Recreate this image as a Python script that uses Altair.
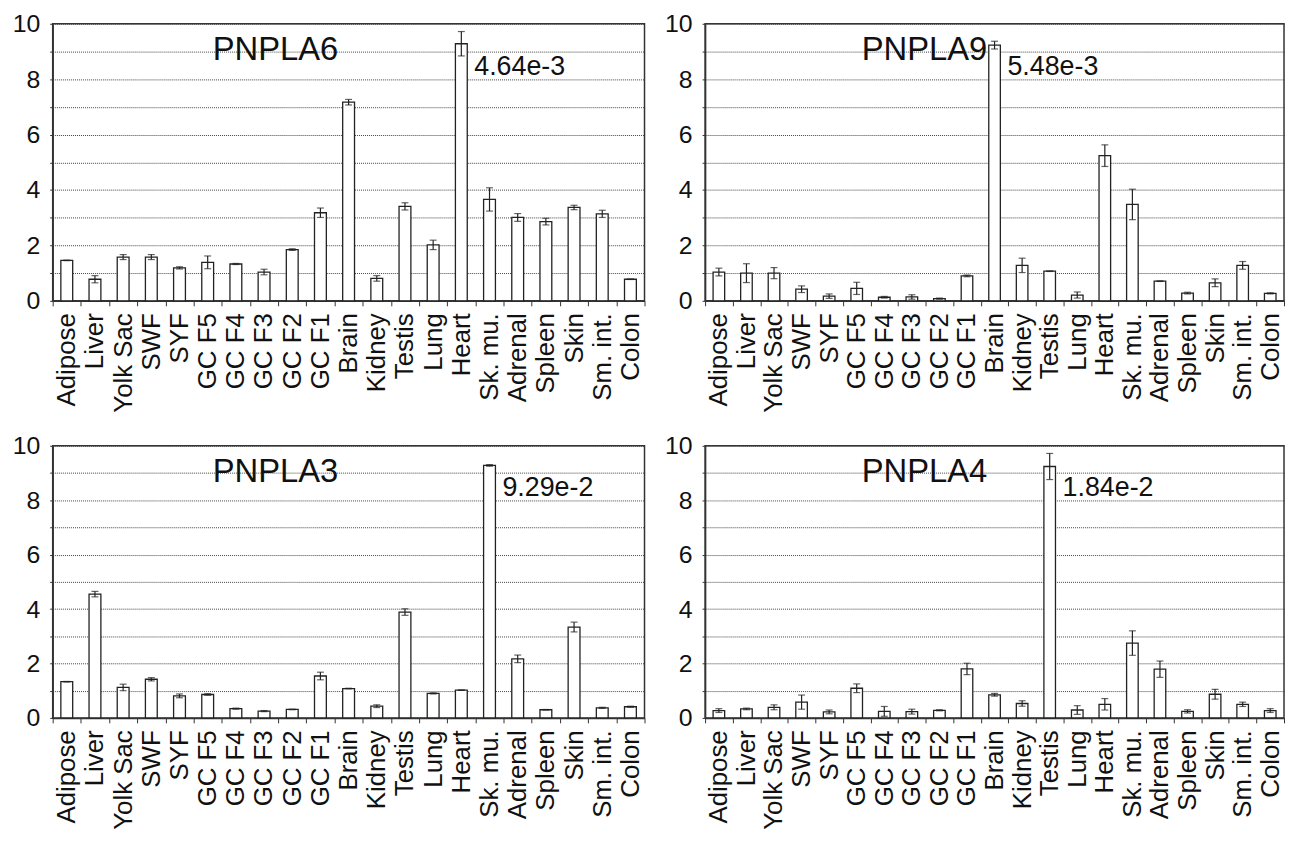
import altair as alt
import pandas as pd

tissues = ["Adipose", "Liver", "Yolk Sac", "SWF", "SYF", "GC F5", "GC F4", "GC F3",
           "GC F2", "GC F1", "Brain", "Kidney", "Testis", "Lung", "Heart", "Sk. mu.",
           "Adrenal", "Spleen", "Skin", "Sm. int.", "Colon"]

genes = ["PNPLA6", "PNPLA9", "PNPLA3", "PNPLA4"]

pnpla6_mean = [1.46, 0.78, 1.58, 1.58, 1.19, 1.39, 1.33, 1.04, 1.85, 3.18, 7.17,
               0.81, 3.41, 2.02, 9.28, 3.66, 3.01, 2.86, 3.37, 3.14, 0.78]
pnpla6_err = [0.01, 0.13, 0.09, 0.09, 0.04, 0.23, 0.02, 0.10, 0.03, 0.17, 0.10,
              0.10, 0.13, 0.17, 0.44, 0.42, 0.14, 0.12, 0.08, 0.13, 0.01]

pnpla9_mean = [1.04, 1.00, 1.00, 0.42, 0.17, 0.45, 0.13, 0.14, 0.08, 0.90, 9.23,
               1.28, 1.07, 0.21, 5.24, 3.48, 0.71, 0.28, 0.65, 1.28, 0.27]
pnpla9_err = [0.14, 0.34, 0.20, 0.12, 0.08, 0.22, 0.03, 0.08, 0.02, 0.03, 0.14,
              0.26, 0.01, 0.11, 0.39, 0.55, 0.01, 0.03, 0.14, 0.14, 0.02]

pnpla3_mean = [1.33, 4.55, 1.12, 1.42, 0.81, 0.86, 0.34, 0.25, 0.31, 1.54, 1.08,
               0.43, 3.89, 0.90, 1.02, 9.28, 2.17, 0.30, 3.34, 0.37, 0.41]
pnpla3_err = [0.01, 0.10, 0.12, 0.06, 0.07, 0.03, 0.02, 0.02, 0.01, 0.14, 0.01,
              0.05, 0.12, 0.02, 0.01, 0.03, 0.14, 0.01, 0.18, 0.02, 0.02]

pnpla4_mean = [0.27, 0.33, 0.39, 0.58, 0.22, 1.09, 0.24, 0.23, 0.28, 1.80, 0.85,
               0.53, 9.24, 0.29, 0.50, 2.75, 1.79, 0.24, 0.87, 0.50, 0.27]
pnpla4_err = [0.07, 0.03, 0.09, 0.26, 0.07, 0.16, 0.18, 0.09, 0.02, 0.21, 0.05,
              0.10, 0.48, 0.16, 0.21, 0.45, 0.30, 0.06, 0.18, 0.08, 0.07]

notes = ["4.64e-3", "5.48e-3", "9.29e-2", "1.84e-2"]
note_tissues = ["Heart", "Brain", "Sk. mu.", "Testis"]

FONT = "Liberation Sans"
INK = "#222222"

YAXIS = alt.Axis(title=None, values=list(range(11)),
                 labelExpr="datum.value % 2 === 0 ? datum.label : ''",
                 labelFont=FONT, labelFontSize=25, labelColor="#111",
                 labelPadding=10, tickSize=3, tickColor="#333",
                 domainColor="#333", domainWidth=1.5, labelOverlap=False,
                 grid=True, gridColor="#444", gridDash=[1, 1], gridWidth=1)
XAXIS = alt.Axis(title=None, labelAngle=-90, labelFont=FONT, labelFontSize=26,
                 labelColor="#111", labelPadding=7, tickBand="extent", tickSize=5,
                 tickColor="#333", domainColor="#333", domainWidth=1.5,
                 labelAlign="right", labelBaseline="middle", grid=False,
                 labelOverlap=False)
YSCALE = alt.Scale(domain=[0, 10], nice=False)
XSCALE = alt.Scale(domain=tissues, paddingInner=0, paddingOuter=0)


def X():
    return alt.X("tissue:N", sort=tissues, scale=XSCALE, axis=XAXIS)


def Y(field):
    return alt.Y(field, scale=YSCALE, axis=YAXIS)


def panel(gene, mean, err, note, note_tissue, w, h):
    df = pd.DataFrame({
        "tissue": tissues,
        "value": mean,
        "lo": [m - e for m, e in zip(mean, err)],
        "hi": [m + e for m, e in zip(mean, err)],
    })
    base = alt.Chart(df)
    bars = base.mark_bar(width={"band": 0.42}, fill="white", stroke=INK,
                         strokeWidth=1.3).encode(x=X(), y=Y("value:Q"))
    rules = base.mark_rule(color=INK, strokeWidth=1.2).encode(
        x=X(), y=Y("lo:Q"), y2="hi:Q")
    cap_hi = base.mark_tick(color=INK, size=7, thickness=1.2).encode(
        x=X(), y=Y("hi:Q"))
    cap_lo = base.mark_tick(color=INK, size=7, thickness=1.2).encode(
        x=X(), y=Y("lo:Q"))

    title_df = pd.DataFrame({"tissue": ["GC F5"], "y": [8.68], "label": [gene]})
    title = alt.Chart(title_df).mark_text(
        font=FONT, fontSize=33, align="left", baseline="alphabetic", dx=5,
        color="#111").encode(x=X(), y=Y("y:Q"), text="label:N")

    note_df = pd.DataFrame({"tissue": [note_tissue], "y": [8.15], "label": [note]})
    note_t = alt.Chart(note_df).mark_text(
        font=FONT, fontSize=27, align="left", baseline="alphabetic", dx=13,
        color="#111").encode(x=X(), y=Y("y:Q"), text="label:N")

    return alt.layer(bars, rules, cap_hi, cap_lo, title, note_t).properties(
        width=w, height=h)


p6 = panel(genes[0], pnpla6_mean, pnpla6_err, notes[0], note_tissues[0], 596, 279)
p9 = panel(genes[1], pnpla9_mean, pnpla9_err, notes[1], note_tissues[1], 583, 279)
p3 = panel(genes[2], pnpla3_mean, pnpla3_err, notes[2], note_tissues[2], 596, 274)
p4 = panel(genes[3], pnpla4_mean, pnpla4_err, notes[3], note_tissues[3], 583, 274)

top = alt.hconcat(p6, p9, spacing=17)
bottom = alt.hconcat(p3, p4, spacing=17)

chart = alt.vconcat(top, bottom, spacing=20).properties(
    padding={"left": 3, "top": 0, "right": 0, "bottom": 0},
    background="white",
).configure_view(stroke="#333", strokeWidth=1.5)

chart.save("out.html", embed_options={"renderer": "svg", "actions": False})
